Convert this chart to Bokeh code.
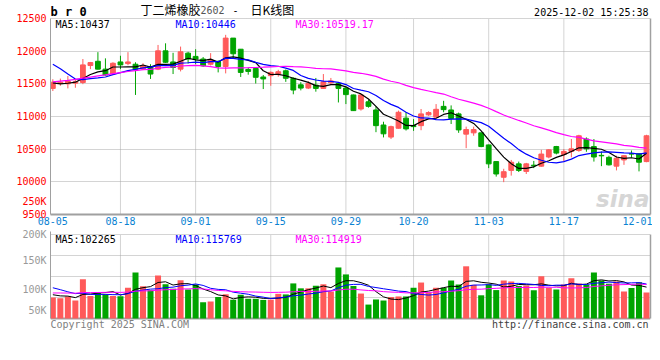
import numpy as np
import pandas as pd
from bokeh.plotting import figure
from bokeh.models import (ColumnDataSource, FixedTicker, Label, Range1d, PrintfTickFormatter,
                          LinearAxis, Grid)
from bokeh.layouts import column
from bokeh.embed import file_html
from bokeh.resources import INLINE

# ---------------- data ----------------
dates = ["08-05", "08-06", "08-07", "08-08", "08-11", "08-12", "08-13", "08-14", "08-15", "08-18",
         "08-19", "08-20", "08-21", "08-22", "08-25", "08-26", "08-27", "08-28", "08-29",
         "09-01", "09-02", "09-03", "09-04", "09-05", "09-08", "09-09", "09-10", "09-11", "09-12",
         "09-15", "09-16", "09-17", "09-18", "09-19", "09-22", "09-23", "09-24", "09-25", "09-26",
         "09-29", "09-30",
         "10-09", "10-10", "10-13", "10-14", "10-15", "10-16", "10-17", "10-20", "10-21", "10-22",
         "10-23", "10-24", "10-27", "10-28", "10-29", "10-30", "10-31",
         "11-03", "11-04", "11-05", "11-06", "11-07", "11-10", "11-11", "11-12", "11-13", "11-14",
         "11-17", "11-18", "11-19", "11-20", "11-21", "11-24", "11-25", "11-26", "11-27", "11-28",
         "12-01", "12-02"]

open_ = [11430, 11505, 11500, 11510, 11520, 11780, 11845, 11725, 11650, 11835,
         11810, 11800, 11725, 11765, 11725, 12005, 11835, 11725, 11970, 11920,
         11880, 11800, 11840, 11765, 12200, 12030, 11720, 11735, 11605, 11625,
         11650, 11700, 11585, 11485, 11435, 11480, 11430, 11515, 11505, 11435,
         11330, 11115, 11225, 11100, 10870, 10685, 10820, 10975, 10860, 10860,
         11025, 10990, 11155, 11100, 11040, 10730, 10750, 10750, 10565, 10310,
         10070, 10175, 10275, 10160, 10255, 10240, 10380, 10540, 10420, 10465,
         10480, 10655, 10540, 10405, 10375, 10240, 10335, 10430, 10430, 10310]
high = [11570, 11580, 11620, 11560, 11880, 11835, 11985, 11890, 11830, 11930,
        11985, 11830, 11815, 11800, 12095, 12120, 11975, 12070, 11990, 12030,
        11910, 11970, 11860, 12250, 12200, 12030, 11750, 11740, 11635, 11690,
        11715, 11720, 11600, 11525, 11540, 11590, 11650, 11590, 11520, 11450,
        11335, 11340, 11255, 11155, 10920, 10860, 11090, 11065, 10960, 11115,
        11080, 11190, 11240, 11170, 11060, 10845, 10845, 10750, 10570, 10310,
        10200, 10335, 10310, 10290, 10320, 10490, 10500, 10550, 10500, 10655,
        10720, 10680, 10655, 10465, 10400, 10400, 10410, 10480, 10440, 10720]
low = [11390, 11470, 11430, 11440, 11495, 11725, 11720, 11625, 11640, 11725,
       11785, 11330, 11710, 11575, 11710, 11820, 11650, 11690, 11810, 11800,
       11760, 11780, 11675, 11660, 11880, 11605, 11640, 11505, 11420, 11470,
       11610, 11530, 11340, 11400, 11420, 11380, 11425, 11490, 11215, 11190,
       11085, 11090, 11135, 10760, 10680, 10655, 10815, 10785, 10780, 10790,
       11010, 10990, 11065, 10885, 10750, 10515, 10705, 10530, 10210, 10080,
       9995, 10095, 10150, 10120, 10210, 10230, 10360, 10420, 10310, 10375,
       10460, 10460, 10310, 10240, 10250, 10175, 10260, 10370, 10160, 10300]
close = [11525, 11525, 11545, 11530, 11790, 11825, 11725, 11635, 11815, 11790,
         11835, 11725, 11775, 11650, 12005, 11830, 11750, 11990, 11880, 11880,
         11775, 11865, 11765, 12200, 11960, 11675, 11690, 11600, 11575, 11675,
         11685, 11585, 11405, 11435, 11505, 11430, 11530, 11545, 11430, 11335,
         11090, 11330, 11155, 10860, 10735, 10845, 11065, 10810, 10845, 11040,
         11060, 11110, 11105, 10970, 10795, 10800, 10800, 10540, 10275, 10120,
         10155, 10300, 10175, 10275, 10245, 10425, 10490, 10440, 10465, 10505,
         10705, 10505, 10380, 10398, 10260, 10360, 10400, 10425, 10300, 10705]
volume = [86000, 85000, 88000, 81000, 117500, 89000, 94000, 92000, 89000, 88500,
          103000, 129500, 105500, 98500, 124000, 109000, 101500, 116000, 100000, 108500,
          78000, 79500, 87000, 92000, 82500, 91000, 84000, 84000, 82000, 82500,
          92500, 91500, 110500, 102000, 102000, 106500, 109000, 96500, 138000, 126000,
          106000, 93000, 74000, 82800, 81000, 87000, 88000, 88000, 103000, 112000,
          95000, 103000, 103000, 115500, 108600, 140000, 108000, 90000, 109000, 99000,
          115500, 114000, 106000, 107000, 98500, 123000, 103000, 100000, 108600, 119500,
          110500, 108000, 129500, 115500, 110000, 114000, 96500, 102500, 112500, 95000]

# sessions before 08-05 (not drawn, only feed the moving averages at the left edge)
pre_close = [11150, 11200, 11100, 11250, 11300, 11200, 11150, 11250, 11300, 11350,
             11300, 11400, 11450, 11500, 11400, 11550, 11600, 11700, 11800, 11950,
             12200, 12350, 12305, 11900, 11665, 11600, 11500, 11450, 11500]
pre_volume = [85000, 92000, 88000, 80000, 95000, 90000, 84000, 86000, 93000, 88000,
              82000, 91000, 95000, 87000, 90000, 86000, 94000, 92000, 96000, 96000,
              118000, 125000, 112000, 110000, 110000, 95000, 90000, 94000, 90000]

tick_labels = ["08-05", "08-18", "09-01", "09-15", "09-29", "10-20", "11-03", "11-17", "12-01"]
price_ticks = [9500, 10000, 10500, 11000, 11500, 12000, 12500]
vol_ticks = [100000, 150000]
ma_windows = [5, 10, 30]
ma_colors = ["#000000", "#0000ff", "#ff00ff"]
header_main = ["MA5:10437", "MA10:10446", "MA30:10519.17"]
header_vol = ["MA5:102265", "MA10:115769", "MA30:114919"]

# ---------------- styling / geometry (pixels) ----------------
RED = "#ff5a5a"
GREEN = "#00a400"
GRID = "#a8a8a8"
BORDER = "#a0a0a0"
MONO = "DejaVu Sans Mono"
CJK = "Noto Sans CJK SC"

FIG_W = 652
LEFT, FRAME_W = 50, 600
MAIN_FIG_H = 228          # price figure: header (0-18), panel (18-214), dates
P_TOP, P_BOT = 18, 214
VOL_FIG_H = 108           # volume figure: 228-336, panel 234-318, footer below
V_TOP, V_BOT = 234, 318

N = len(dates)
idx = np.arange(N)
XS, XE = -0.31, N - 0.47
PRICE0, PRICE1 = 9500, 12500
VOL0 = 50000
VOL1 = VOL0 * (1 + (V_BOT - V_TOP) / 29)

def mx(px):
    return XS + (px - LEFT) * (XE - XS) / FRAME_W

def my(py):
    return PRICE1 - (py - P_TOP) * (PRICE1 - PRICE0) / (P_BOT - P_TOP)

def vy(py):
    return VOL1 - (py - V_TOP) * (VOL1 - VOL0) / (V_BOT - V_TOP)

o = np.array(open_, float)
c = np.array(close, float)
colors = [RED if cc >= oo else GREEN for oo, cc in zip(o, c)]

closes_all = pd.Series(pre_close + close, dtype=float)
vols_all = pd.Series(pre_volume + volume, dtype=float)
price_ma = [closes_all.rolling(w).mean().iloc[-N:].to_numpy() for w in ma_windows]
vol_ma = [vols_all.rolling(w).mean().iloc[-N:].to_numpy() for w in ma_windows]

tick_pos = [dates.index(t) for t in tick_labels]
grid_pos = tick_pos[1:-1]
x_range = Range1d(XS, XE)

common = dict(width=FIG_W, x_range=x_range, output_backend="svg", toolbar_location=None,
              min_border_left=LEFT, min_border_right=FIG_W - LEFT - FRAME_W, outline_line_color=None,
              background_fill_color="white", border_fill_color="white")


def style_left_axis(ax, color):
    ax.major_label_text_color = color
    ax.major_label_text_font = MONO
    ax.major_label_text_font_size = "10px"
    ax.major_tick_line_color = None
    ax.minor_tick_line_color = None
    ax.major_tick_out = 0
    ax.minor_tick_out = 0
    ax.major_label_standoff = 4
    ax.axis_line_color = BORDER


def right_border(fig, lo, hi):
    ax = LinearAxis(bounds=(lo, hi), ticker=FixedTicker(ticks=[]), axis_line_color=BORDER,
                    axis_line_width=1.5, major_tick_line_color=None, minor_tick_line_color=None,
                    major_tick_out=0, minor_tick_out=0, major_label_standoff=0)
    fig.add_layout(ax, "right")


def lab(fig, px, y, text, color="#000000", font=MONO, size="10px", align="left", style="normal"):
    fig.add_layout(Label(x=mx(px), y=y, text=text, text_color=color, text_font=font,
                         text_font_size=size, text_align=align, text_baseline="middle",
                         text_font_style=style))


# ---------------- main (price) panel ----------------
p = figure(height=MAIN_FIG_H, y_range=Range1d(PRICE0, my(0)), min_border_top=0,
           min_border_bottom=MAIN_FIG_H - P_BOT, **common)

p.segment(x0=grid_pos, x1=grid_pos, y0=PRICE0, y1=PRICE1, line_color=GRID, line_dash="1 1")

src = ColumnDataSource(dict(x=idx, top=np.maximum(o, c), bottom=np.minimum(o, c),
                            high=high, low=low, color=colors))
p.segment(x0="x", y0="low", x1="x", y1="high", line_color="color", line_width=1, source=src)
p.vbar(x="x", width=0.64, top="top", bottom="bottom", fill_color="color", line_color="color",
       line_width=1, source=src)
for ma, col in zip(price_ma, ma_colors):
    p.line(idx, ma, line_color=col, line_width=1.2)

odd_tick = round(my(201))
ly = p.yaxis[0]
ly.ticker = FixedTicker(ticks=price_ticks + [odd_tick])
ly.formatter = PrintfTickFormatter(format="%d")
ly.major_label_overrides = {odd_tick: "250K"}
ly.bounds = (PRICE0, PRICE1)
style_left_axis(ly, "#ff0000")

bx = p.xaxis[0]
bx.ticker = FixedTicker(ticks=tick_pos)
bx.major_label_overrides = {tp: t for tp, t in zip(tick_pos, tick_labels)}
bx.major_label_text_color = "#0a82d2"
bx.major_label_text_font = MONO
bx.major_label_text_font_size = "10px"
bx.major_tick_line_color = None
bx.minor_tick_line_color = None
bx.major_tick_out = 0
bx.minor_tick_out = 0
bx.major_label_standoff = 2
bx.axis_line_color = BORDER
bx.axis_line_width = 2

p.xgrid.visible = False
p.ygrid.ticker = FixedTicker(ticks=price_ticks[1:])
p.ygrid.grid_line_color = GRID
p.ygrid.grid_line_dash = "1 1"
right_border(p, PRICE0, PRICE1)

lab(p, 50, my(11.5), "b r 0", size="12px", style="bold")
lab(p, 140, my(8.5), "丁二烯橡胶", font=CJK, size="12px")
lab(p, 200, my(9), "2602", color="#555555")
lab(p, 232, my(9), "-")
lab(p, 250, my(8.5), "日K线图", font=CJK, size="12px")
lab(p, 648, my(11.5), "2025-12-02 15:25:38", align="right")
for px, txt, col in zip([55, 175, 295], header_main, ma_colors):
    lab(p, px, my(24), txt, color=col)
lab(p, 649, my(198), "sina", color="#d6d6d6", font="DejaVu Sans", size="23px", align="right",
    style="bold italic")

# ---------------- volume panel ----------------
q = figure(height=VOL_FIG_H, y_range=Range1d(vy(MAIN_FIG_H + VOL_FIG_H), vy(MAIN_FIG_H)),
           min_border_top=0, min_border_bottom=0, **common)

q.segment(x0=grid_pos, x1=grid_pos, y0=VOL0, y1=VOL1, line_color=GRID, line_dash="1 1")
q.vbar(x=idx, width=0.8, top=volume, bottom=VOL0, fill_color=colors, line_color=None)
for ma, col in zip(vol_ma, ma_colors):
    q.line(idx, ma, line_color=col, line_width=1)

lo_tick, hi_tick = round(vy(310)), round(vy(231))
vy_ax = q.yaxis[0]
vy_ax.ticker = FixedTicker(ticks=[lo_tick] + vol_ticks + [hi_tick])
vy_ax.major_label_overrides = {**{t: f"{t // 1000}K" for t in vol_ticks},
                               lo_tick: "50K", hi_tick: "200K"}
vy_ax.bounds = (VOL0, hi_tick)
style_left_axis(vy_ax, "#999999")

q.xaxis.visible = False
q.xgrid.visible = False
q.ygrid.ticker = FixedTicker(ticks=[VOL0 + k * (VOL1 - VOL0) / 4 for k in range(1, 5)])
q.ygrid.grid_line_color = GRID
q.ygrid.grid_line_dash = "1 1"
q.add_layout(Grid(dimension=1, ticker=FixedTicker(ticks=[VOL0]), grid_line_color=BORDER,
                  grid_line_width=2))
right_border(q, VOL0, VOL1)

for px, txt, col in zip([55, 175, 295], header_vol, ma_colors):
    lab(q, px, vy(238.5), txt, color=col)
lab(q, 50, vy(324), "Copyright 2025 SINA.COM", color="#808080")
lab(q, 648, vy(324), "http://finance.sina.com.cn", color="#404040", align="right")

layout = column(p, q)
open("out.html", "w").write(file_html(layout, INLINE))
